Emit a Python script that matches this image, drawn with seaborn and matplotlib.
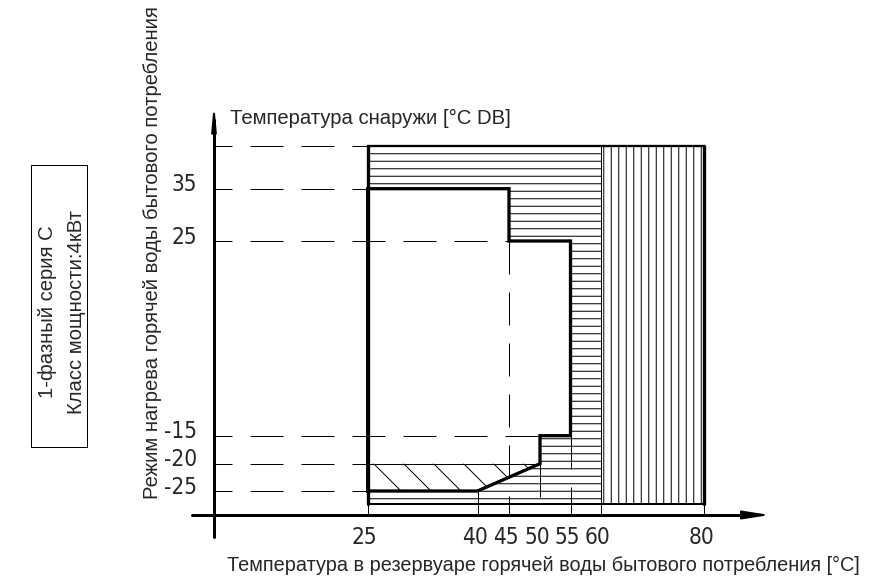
import numpy as np
import matplotlib
matplotlib.use("Agg")
import matplotlib.pyplot as plt
import seaborn as sns
from matplotlib.patches import Polygon, Rectangle
from matplotlib import transforms
from matplotlib import font_manager as fm

# ---------------- data ----------------
water_ticks = [25, 40, 45, 50, 55, 60, 80]
outdoor_ticks = [-25, -20, -15, 25, 35]
outdoor_top = 43
outdoor_bottom = -27.5
water_min, water_limit, water_max = 25, 60, 80
contour_x = [25, 25, 45, 45, 55, 55, 50, 50, 40, 25]
contour_y = [-25, 35, 35, 25, 25, -15, -15, -20, -25, -25]
assist_x = [25, 50, 40, 25]
assist_y = [-20, -20, -25, -25]
guide_y_ends = {43: 25, 35: 25, 25: 45, -15: 50, -20: 25, -25: 25}
guide_x_starts = {25: None, 40: -25, 45: 25, 50: -20, 55: -15, 60: None, 80: None}

title_y = "Температура снаружи [°C DB]"
title_x = "Температура в резервуаре горячей воды бытового потребления [°C]"
side_label = "Режим нагрева горячей воды бытового потребления"
box_lines = ["1-фазный серия C", "Класс мощности:4кВт"]

# ---------------- layout ----------------
W, H, DPI = 893, 585, 90
PT = 72.0 / DPI  # px -> pt

sns.set_theme(style="white")
plt.rcParams["font.family"] = ["Liberation Sans", "DejaVu Sans"]
plt.rcParams["hatch.linewidth"] = 1.0 * PT
plt.rcParams["lines.scale_dashes"] = False

# look for a condensed face for the tick numbers
narrow_fp = None
for f in fm.fontManager.ttflist:
    nm = f.name.lower()
    st = str(f.stretch).lower()
    if f.style == "normal" and f.weight in (400, "normal", "regular") and (
            "narrow" in nm or "condensed" in nm or "condensed" in st):
        narrow_fp = fm.FontProperties(fname=f.fname)
        break
if narrow_fp is not None:
    tick_fp = narrow_fp
    tick_fp.set_size(22.5 * PT)
else:
    tick_fp = fm.FontProperties(family=["Liberation Sans", "DejaVu Sans"],
                                size=21 * PT)

# piecewise schematic scales (data value -> pixel)
xk_d = [-1000, 25, 40, 45, 50, 55, 60, 80, 1000]
xk_p = [367.7 - 1025 * 7.33, 367.7, 477.5, 509, 540, 570.5, 600.7, 704, 704 + 920 * 5.17]
yk_d = [-1000, -27.5, -25, -20, -15, 25, 35, 43, 1000]
yk_p = [503.5 + 972.5 * 5.0, 503.5, 491, 463.7, 435.7, 241, 188.7, 146, 146 - 957 * 5.3]
yk_v = [H - p for p in yk_p]


def fx(v):
    return np.interp(v, xk_d, xk_p)


def ix(p):
    return np.interp(p, xk_p, xk_d)


def fy(v):
    return np.interp(v, yk_d, yk_v)


def iy(p):
    return np.interp(p, yk_v, yk_d)


fig = plt.figure(figsize=(W / DPI, H / DPI), dpi=DPI)
ax = fig.add_axes([0, 0, 1, 1])
ax.set_xscale("function", functions=(fx, ix))
ax.set_yscale("function", functions=(fy, iy))
ax.set_xlim(float(ix(0)), float(ix(W)))
ax.set_ylim(float(iy(0)), float(iy(H)))
ax.axis("off")

axis_x = float(ix(214))       # data x of vertical axis
axis_y = float(iy(H - 515))   # data y of horizontal axis

DASH = (33 * PT, 18 * PT)

# hatched regions
ax.add_patch(Rectangle((water_min, outdoor_bottom), water_limit - water_min,
                       outdoor_top - outdoor_bottom, facecolor="white",
                       edgecolor="black", lw=0, hatch="--", zorder=1))
ax.add_patch(Rectangle((water_limit, outdoor_bottom), water_max - water_limit,
                       outdoor_top - outdoor_bottom, facecolor="white",
                       edgecolor="black", lw=0, hatch="||", zorder=1))
ax.add_patch(Polygon(list(zip(contour_x, contour_y)), closed=True,
                     facecolor="white", edgecolor="none", zorder=2))
ax.add_patch(Polygon(list(zip(assist_x, assist_y)), closed=True,
                     facecolor="white", edgecolor="black", lw=0, hatch="\\",
                     zorder=3))

# guide lines
for yv, xend in guide_y_ends.items():
    ax.plot([axis_x, xend], [yv, yv], zorder=4, color="black", lw=1.0 * PT,
            linestyle=(15 * PT, DASH))
ax.plot([25, 50], [-20, -20], color="black", lw=1.0 * PT, zorder=4)
for xv, ystart in guide_x_starts.items():
    y0 = outdoor_bottom if ystart is None else ystart
    ax.plot([xv, xv], [y0, axis_y], zorder=4, color="black", lw=1.0 * PT,
            linestyle=(0, DASH))

# outer borders
ax.plot([water_min, water_max], [outdoor_top, outdoor_top], color="black",
        lw=2.3 * PT, zorder=5, solid_capstyle="projecting")
ax.plot([water_min, water_max], [outdoor_bottom, outdoor_bottom], color="black",
        lw=2.0 * PT, zorder=5)
ax.plot([water_min, water_min], [outdoor_bottom, outdoor_top], color="black",
        lw=3.3 * PT, zorder=5)
ax.plot([water_max, water_max], [outdoor_bottom, outdoor_top], color="black",
        lw=3.3 * PT, zorder=5)
ax.plot([water_limit, water_limit], [outdoor_bottom, outdoor_top], color="black",
        lw=1.0 * PT, zorder=5)

# operating range contour
sns.lineplot(x=contour_x, y=contour_y, sort=False, estimator=None, ax=ax,
             color="black", lw=3.3 * PT, zorder=6, solid_joinstyle="miter",
             solid_capstyle="projecting", legend=False)

# axes with arrows
ax.plot([214 / W, 214 / W], [1 - 537 / H, 1 - 120 / H], transform=ax.transAxes,
        color="black", lw=3 * PT, clip_on=False, zorder=7)
ax.annotate("", xy=(214 / W, 1 - 103 / H), xytext=(214 / W, 1 - 128 / H),
            xycoords="axes fraction",
            arrowprops=dict(arrowstyle="-|>,head_length=1.6,head_width=0.15",
                            mutation_scale=10, lw=2 * PT, color="black",
                            shrinkA=0, shrinkB=0), zorder=7)
ax.plot([192 / W, 750 / W], [1 - 515 / H, 1 - 515 / H], transform=ax.transAxes,
        color="black", lw=3 * PT, clip_on=False, zorder=7)
ax.annotate("", xy=(770 / W, 1 - 515 / H), xytext=(744 / W, 1 - 515 / H),
            xycoords="axes fraction",
            arrowprops=dict(arrowstyle="-|>,head_length=1.8,head_width=0.28",
                            mutation_scale=10, lw=2 * PT, color="black",
                            shrinkA=0, shrinkB=0), zorder=7)

# tick labels
bx = transforms.blended_transform_factory(ax.transData, ax.transAxes)
by = transforms.blended_transform_factory(ax.transAxes, ax.transData)
off_up = transforms.ScaledTranslation(0, 4 / DPI, fig.dpi_scale_trans)
off_left = transforms.ScaledTranslation(-3 / DPI, 0, fig.dpi_scale_trans)
for v in water_ticks:
    ax.text(v, 1 - 537 / H, str(v), transform=bx + off_left, ha="center",
            va="center", fontproperties=tick_fp)
for v in outdoor_ticks:
    ax.text(197 / W, v, str(v), transform=by + off_up, ha="right", va="center",
            fontproperties=tick_fp)

# titles
fs = 20.3 * PT
fig.text(230 / W, 1 - 118 / H, title_y, ha="left", va="center", fontsize=fs)
fig.text(543 / W, 1 - 565 / H, title_x, ha="center", va="center",
         fontsize=19.9 * PT)
fig.text(152 / W, 1 - 253 / H, side_label, ha="center", va="center",
         rotation=90, fontsize=fs)

# info box
fig.add_artist(Rectangle((31 / W, 1 - 447 / H), 56 / W, 282 / H,
                         transform=fig.transFigure, facecolor="none",
                         edgecolor="black", lw=1.0 * PT))
fig.text(48 / W, 1 - 312 / H, box_lines[0], ha="center", va="center",
         rotation=90, fontsize=fs)
fig.text(76 / W, 1 - 312 / H, box_lines[1], ha="center", va="center",
         rotation=90, fontsize=fs)

fig.savefig("out.png", dpi=DPI, facecolor="white")
